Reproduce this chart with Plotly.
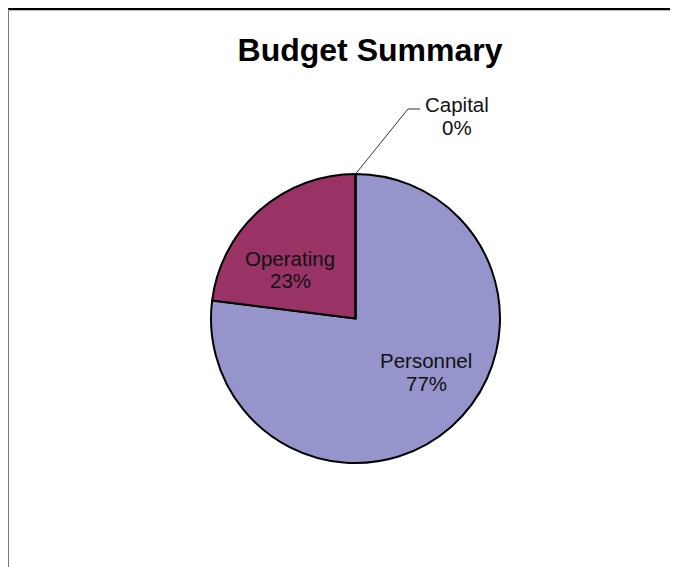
import plotly.graph_objects as go

# ---- data ----
categories = ["Personnel", "Operating", "Capital"]
values = [77, 23, 0]
colors = ["#9595CB", "#993366", "#FFFFCC"]
title_text = "Budget Summary"

W, H = 678, 567
FONT = "Liberation Sans, Arial, sans-serif"
LABEL_SIZE = 20.5
LINE_PITCH = 23

# pie geometry (pixels in figure frame)
cx, cy, r = 347.5, 310.5, 144.5

# label block centres (pixels) for each category
label_pos = {
    "Personnel": (418, 363.5),
    "Operating": (282, 261.5),
    "Capital": (448.5, 108),
}


def px(x):
    return x / W


def py(y):
    return 1 - y / H


total = sum(values)

fig = go.Figure()
fig.add_trace(go.Pie(
    labels=categories,
    values=values,
    sort=False,
    direction="clockwise",
    rotation=0,
    marker=dict(colors=colors, line=dict(color="#000000", width=2)),
    textinfo="none",
    hoverinfo="skip",
    showlegend=False,
    domain=dict(x=[px(cx - r), px(cx + r)], y=[py(cy + r), py(cy - r)]),
))

# slice labels (name line and percent line)
for cat, val in zip(categories, values):
    lx, ly = label_pos[cat]
    lines = [cat, f"{round(100 * val / total)}%"]
    for k, line in enumerate(lines):
        fig.add_annotation(
            x=px(lx), y=py(ly + (k - 0.5) * LINE_PITCH), xref="paper", yref="paper",
            text=line,
            showarrow=False, align="center",
            font=dict(family=FONT, size=LABEL_SIZE, color="#111111"),
            xanchor="center", yanchor="middle",
        )

# leader line for Capital
fig.add_shape(
    type="path", xref="paper", yref="paper",
    path=f"M {px(cx)} {py(cy - r)} L {px(400)} {py(101)} L {px(412)} {py(101)}",
    line=dict(color="#333333", width=1),
)

# frame lines
fig.add_shape(type="line", xref="paper", yref="paper",
              x0=0, x1=1, y0=py(1), y1=py(1),
              line=dict(color="#000000", width=2.5))
fig.add_shape(type="line", xref="paper", yref="paper",
              x0=px(0.5), x1=px(0.5), y0=0, y1=py(1),
              line=dict(color="#777777", width=1))

fig.update_layout(
    width=W, height=H,
    margin=dict(l=0, r=0, t=0, b=0),
    paper_bgcolor="white",
    plot_bgcolor="white",
    title=dict(text=title_text, x=px(362), y=py(42), xanchor="center", yanchor="middle",
               font=dict(family=FONT, size=32, color="#000000", weight="bold")),
)

fig.write_html("out.html")
